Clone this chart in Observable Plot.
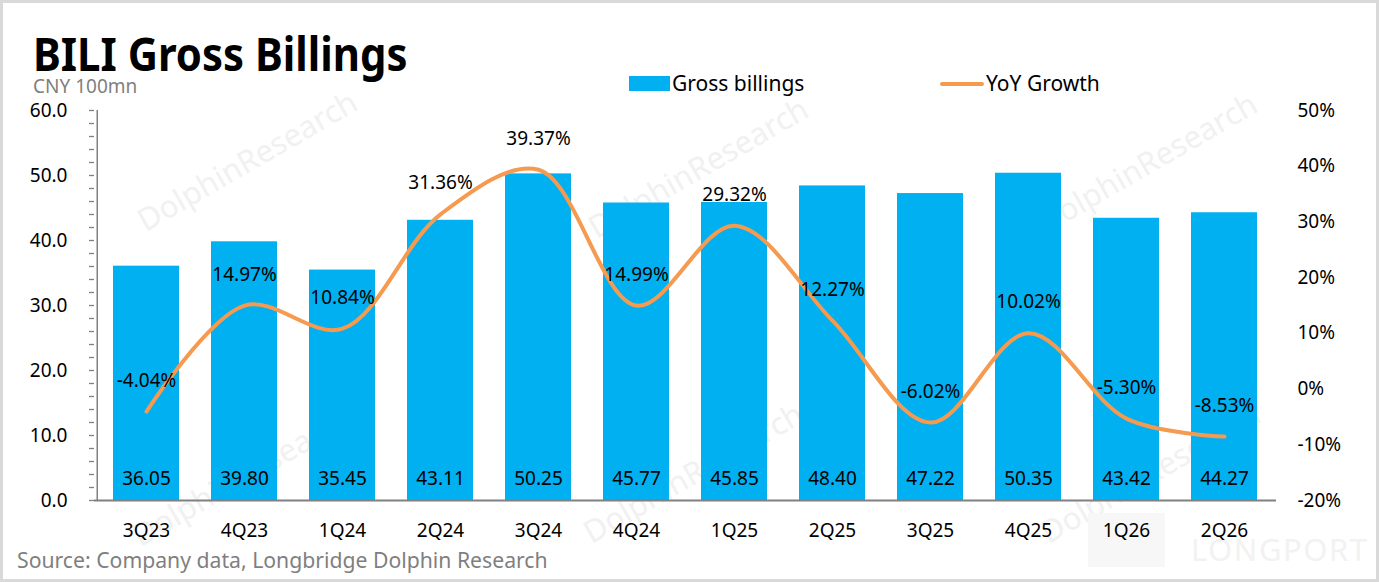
<!DOCTYPE html>
<html>
<head>
<meta charset="utf-8">
<script src="https://cdn.jsdelivr.net/npm/d3@7"></script>
<script src="https://cdn.jsdelivr.net/npm/@observablehq/plot@0.6"></script>
<style>
  body { margin: 0; background: #fff; }
  #wrap { position: relative; width: 1379px; height: 582px; overflow: hidden; background: #fff; font-family: "Noto Sans", sans-serif; }
  #frame { position: absolute; left: 0; top: 0; width: 1379px; height: 582px; box-sizing: border-box; border: 3px solid #d9d9d9; pointer-events: none; z-index: 5; }
  .wm { position: absolute; width: 300px; margin-left: -150px; text-align: center; font-size: 31px; line-height: 1; color: #f1f1f1; transform: rotate(-30deg); white-space: nowrap; z-index: 0; }
  #logo { position: absolute; left: 1191px; top: 538px; font-size: 31px; line-height: 0.75; color: #f2f2f2; letter-spacing: 1.5px; z-index: 0; }
  #logobox { position: absolute; left: 1088px; top: 513px; width: 77px; height: 54px; background: #f7f7f7; z-index: 0; }
  #title { position: absolute; left: 33px; top: 34.6px; font-size: 46px; font-weight: 700; line-height: 0.8; color: #000; transform: scaleX(0.91); transform-origin: 0 0; white-space: nowrap; z-index: 2; }
  #unit { position: absolute; left: 33px; top: 79px; font-size: 19px; line-height: 0.8; color: #7f7f7f; z-index: 2; }
  .lg { position: absolute; font-size: 21px; line-height: 1; color: #000; white-space: nowrap; z-index: 2; }
  #sw1 { position: absolute; left: 629px; top: 76px; width: 41px; height: 15px; background: #00B0F0; }
  #sw2 { position: absolute; left: 940px; top: 82px; width: 44px; height: 4px; border-radius: 2px; background: #F59A4F; }
  #chart { position: absolute; left: 0; top: 96px; z-index: 1; }
  #source { position: absolute; left: 17px; top: 549px; font-size: 21.2px; line-height: 1; color: #7f7f7f; white-space: nowrap; z-index: 2; }
</style>
</head>
<body>
<div id="wrap">
  <div class="wm" style="left:247px;top:145px;">DolphinResearch</div>
  <div class="wm" style="left:698px;top:152px;">DolphinResearch</div>
  <div class="wm" style="left:1147px;top:147px;">DolphinResearch</div>
  <div class="wm" style="left:242px;top:460px;">DolphinResearch</div>
  <div class="wm" style="left:693px;top:457px;">DolphinResearch</div>
  <div class="wm" style="left:1150px;top:457px;">DolphinResearch</div>
  <div id="logobox"></div>
  <div id="logo">LONGPORT</div>

  <div id="title">BILI Gross Billings</div>
  <div id="unit">CNY 100mn</div>
  <div id="sw1"></div>
  <div class="lg" style="left:672px;top:72.5px;">Gross billings</div>
  <div id="sw2"></div>
  <div class="lg" style="left:986px;top:72.5px;">YoY Growth</div>

  <div id="chart"></div>
  <div id="source">Source: Company data, Longbridge Dolphin Research</div>
  <div id="frame"></div>
</div>
<script>
const quarters = ["3Q23","4Q23","1Q24","2Q24","3Q24","4Q24","1Q25","2Q25","3Q25","4Q25","1Q26","2Q26"];
const billings = [36.05, 39.80, 35.45, 43.11, 50.25, 45.77, 45.85, 48.40, 47.22, 50.35, 43.42, 44.27];
const yoyGrowth = [-4.04, 14.97, 10.84, 31.36, 39.37, 14.99, 29.32, 12.27, -6.02, 10.02, -5.30, -8.53];
const leftTicks = [0, 10, 20, 30, 40, 50, 60];
const leftMinorTicks = d3.range(0, 61, 2);
const rightTicks = [-20, -10, 0, 10, 20, 30, 40, 50];

const leftMin = 0, leftMax = 60, rightMin = -20, rightMax = 50;
const toLeft = g => (g - rightMin) * (leftMax - leftMin) / (rightMax - rightMin) + leftMin;

const data = quarters.map((q, i) => ({q, v: billings[i], g: yoyGrowth[i]}));

const W = 1379, H = 444, ML = 94, MR = 103, MT = 14, MB = 40;
const step = (W - ML - MR) / quarters.length;

const barColor = "#00B0F0";
const lineColor = "#F59A4F";
const axisGray = "#808080";

const chart = Plot.plot({
  width: W, height: H,
  marginLeft: ML, marginRight: MR, marginTop: MT, marginBottom: MB,
  style: {fontFamily: "Noto Sans", fontSize: "19px", color: "#000", background: "transparent", overflow: "visible"},
  x: {domain: quarters, paddingInner: 0.33, paddingOuter: 0.165, label: null},
  y: {domain: [leftMin, leftMax], label: null},
  marks: [
    Plot.barY(data, {x: "q", y: "v", fill: barColor}),
    Plot.ruleY([0], {stroke: axisGray, strokeWidth: 2}),
    Plot.ruleX([quarters[0]], {dx: -step / 2, stroke: axisGray, strokeWidth: 1.5}),
    Plot.axisY(leftMinorTicks, {anchor: "left", label: null, tickSize: 5, stroke: axisGray, strokeWidth: 1.3, tickFormat: () => ""}),
    Plot.axisY(leftTicks, {anchor: "left", label: null, tickSize: 0, tickPadding: 27, tickFormat: d => d.toFixed(1), fontSize: 19}),
    Plot.axisY(rightTicks.map(toLeft), {anchor: "right", label: null, tickSize: 0, tickPadding: 21, tickFormat: d => Math.round(d * (rightMax - rightMin) / (leftMax - leftMin) + rightMin) + "%", fontSize: 19}),
    Plot.axisX({label: null, tickSize: 0, tickPadding: 23, fontSize: 19}),
    Plot.text(data, {x: "q", y: 0, text: d => d.v.toFixed(2), dy: -22, fontSize: 19, fill: "#000"}),
    Plot.line(data, {x: "q", y: d => toLeft(d.g), stroke: lineColor, strokeWidth: 4, curve: "catmull-rom", strokeLinecap: "round"}),
    Plot.text(data, {x: "q", y: d => toLeft(d.g), text: d => d.g.toFixed(2) + "%", dy: -31, fontSize: 19, fill: "#000"})
  ]
});
document.getElementById("chart").appendChild(chart);
</script>
</body>
</html>
